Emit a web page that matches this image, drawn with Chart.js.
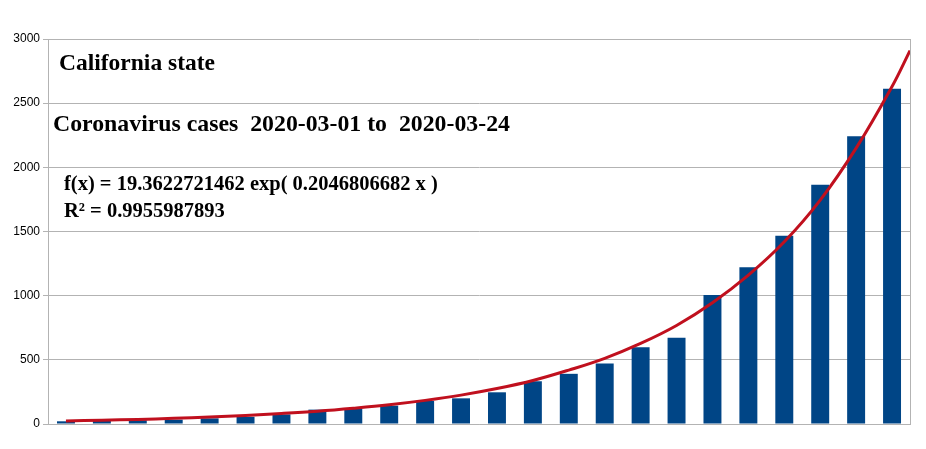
<!DOCTYPE html>
<html>
<head>
<meta charset="utf-8">
<script src="https://cdn.jsdelivr.net/npm/chart.js@4"></script>
<style>
  html, body { margin: 0; padding: 0; background: #ffffff; }
  #wrap { position: relative; width: 926px; height: 449px; }
  .note {
    position: absolute;
    font-family: "Liberation Serif", "DejaVu Serif", serif;
    font-weight: bold;
    color: #000000;
    line-height: 1;
    white-space: pre;
  }
</style>
</head>
<body>
<div id="wrap">
  <canvas id="casesChart" width="926" height="449"></canvas>
  <div class="note" style="left:59px; top:51px; font-size:23.5px;">California state</div>
  <div class="note" style="left:53px; top:112px; font-size:23.8px;">Coronavirus cases  2020-03-01 to  2020-03-24</div>
  <div class="note" style="left:64px; top:173px; font-size:20.5px;">f(x) = 19.3622721462 exp( 0.2046806682 x )</div>
  <div class="note" style="left:64px; top:200px; font-size:20.5px;">R² = 0.9955987893</div>
</div>
<script>
// days shown on the chart (labels are not drawn)
var days = ["2020-03-01", "2020-03-02", "2020-03-03", "2020-03-04", "2020-03-05", "2020-03-06",
  "2020-03-07", "2020-03-08", "2020-03-09", "2020-03-10", "2020-03-11", "2020-03-12",
  "2020-03-13", "2020-03-14", "2020-03-15", "2020-03-16", "2020-03-17", "2020-03-18",
  "2020-03-19", "2020-03-20", "2020-03-21", "2020-03-22", "2020-03-23", "2020-03-24"];

// cumulative cases
var cases = [21, 26, 29, 34, 44, 56, 75, 112, 118, 143, 180, 200,
  247, 333, 391, 471, 599, 672, 1005, 1221, 1466, 1865, 2242, 2612];

// trendline as it is drawn in the picture (x = day number)
var trendX = [1, 2, 3, 4, 5, 6, 7, 8, 9, 10, 11, 12, 13, 14, 15, 16, 17, 18, 19, 20, 21, 22, 23, 24, 24.5];
var trendY = [24, 29, 36, 44, 55, 67, 82, 100, 123, 150, 184, 225, 276, 339, 420, 512,
  628, 768, 945, 1160, 1420, 1745, 2150, 2630, 2910];

var yTicks = [0, 500, 1000, 1500, 2000, 2500, 3000];

var trendPoints = [];
for (var i = 0; i < trendX.length; i++) {
  trendPoints.push({ x: trendX[i], y: trendY[i] });
}

// grey line on the right side of the plot area
var frame = {
  id: "frame",
  afterDatasetsDraw: function (chart) {
    var a = chart.chartArea;
    var c = chart.ctx;
    c.save();
    c.strokeStyle = "#b3b3b3";
    c.lineWidth = 1;
    c.beginPath();
    c.moveTo(a.right + 0.5, a.top);
    c.lineTo(a.right + 0.5, a.bottom);
    c.stroke();
    c.restore();
  }
};

new Chart("casesChart", {
  data: {
    labels: days,
    datasets: [
      {
        type: "line",
        data: trendPoints,
        xAxisID: "xTrend",
        borderColor: "#c0101e",
        borderWidth: 3,
        pointRadius: 0,
        tension: 0.4,
        fill: false,
        order: 0
      },
      {
        type: "bar",
        data: cases,
        xAxisID: "x",
        grouped: false,
        backgroundColor: "#004586",
        categoryPercentage: 1.0,
        barPercentage: 0.5,
        order: 1
      }
    ]
  },
  options: {
    responsive: false,
    animation: false,
    layout: { padding: { left: 0, right: 16, top: 39, bottom: 17 } },
    plugins: {
      legend: { display: false },
      tooltip: { enabled: false }
    },
    scales: {
      x: {
        type: "category",
        offset: true,
        grid: { display: false },
        border: { display: true, color: "#b3b3b3", width: 1 },
        ticks: { display: false }
      },
      xTrend: {
        type: "linear",
        display: false,
        min: 0.5,
        max: 24.5
      },
      y: {
        min: 0,
        max: 3000,
        afterFit: function (axis) { axis.width = 48; },
        afterBuildTicks: function (axis) {
          axis.ticks = yTicks.map(function (v) { return { value: v }; });
        },
        grid: { color: "#b3b3b3", lineWidth: 1, tickLength: 5 },
        border: { display: true, color: "#b3b3b3", width: 1 },
        ticks: {
          color: "#000000",
          padding: 3,
          font: { family: "Liberation Sans", size: 12 },
          callback: function (v) { return String(v); }
        }
      }
    }
  },
  plugins: [frame]
});
</script>
</body>
</html>
